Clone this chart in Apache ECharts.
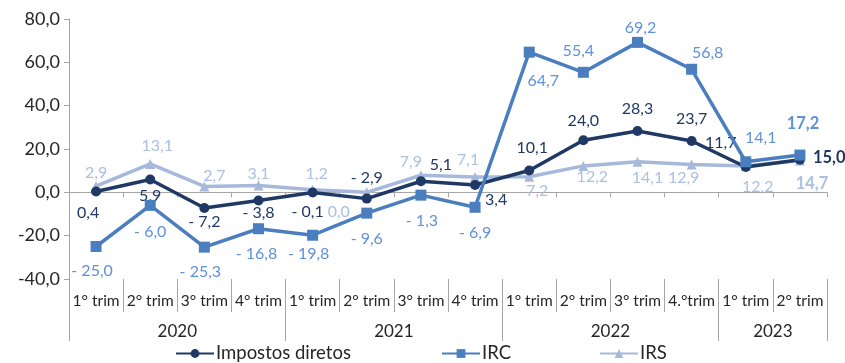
<!DOCTYPE html>
<html>
<head>
<meta charset="utf-8">
<script src="https://cdn.jsdelivr.net/npm/echarts@6/dist/echarts.min.js"></script>
<style>
  html, body { margin: 0; padding: 0; background: #fff; }
  #chart { width: 845px; height: 363px; }
</style>
</head>
<body>
<div id="chart"></div>
<script>
// Quarterly year-on-year change (%) of direct taxes, IRC and IRS
const quarters = ['1° trim', '2° trim', '3° trim', '4° trim',
                  '1° trim', '2° trim', '3° trim', '4° trim',
                  '1° trim', '2° trim', '3° trim', '4.°trim',
                  '1° trim', '2° trim'];
const years = ['2020', '2021', '2022', '2023'];
const quartersPerYear = [4, 4, 4, 2];

const impostosDiretos = [0.4, 5.9, -7.2, -3.8, -0.1, -2.9, 5.1, 3.4, 10.1, 24.0, 28.3, 23.7, 11.7, 15.0];
const irc = [-25.0, -6.0, -25.3, -16.8, -19.8, -9.6, -1.3, -6.9, 64.7, 55.4, 69.2, 56.8, 14.1, 17.2];
const irs = [2.9, 13.1, 2.7, 3.1, 1.2, 0.0, 7.9, 7.1, 7.2, 12.2, 14.1, 12.9, 12.2, 14.7];

const yTicks = { min: -40, max: 80, step: 20 };

// label placement per point: [position, dx, dy]
const impLabelPlace = [['bottom',-8,3],['bottom',0,-2],['bottom',0,-4],['bottom',0,-6],['bottom',-5,1],['top',0,-3],['top',20,2],['right',0,15],['top',3,-5],['top',0,-1],['top',0,-4],['top',0,-4],['top',-25,-6],['right',3,-2]];
const ircLabelPlace = [['bottom',-4,6],['bottom',0,8],['bottom',-4,6],['bottom',-2,7],['bottom',-4,0],['bottom',0,7],['bottom',1,7],['bottom',0,7],['bottom',14,10],['top',-5,-3],['top',3,4],['top',16,2],['top',15,-5],['top',3,-12]];
const irsLabelPlace = [['top',0,5],['top',7,0],['top',10,7],['top',0,6],['top',4,2],['bottom',-28,2],['top',-10,5],['top',-7,1],['bottom',8,-4],['bottom',9,-7],['bottom',10,-2],['bottom',-8,-5],['bottom',12,3],['bottom',12,5]];

const FONT = 'Lato, "DejaVu Sans", sans-serif';
const AXIS_GREY = '#a6a6a6';
const TEXT = '#262626';

function fmt(v) {
  const s = Math.abs(v).toFixed(1).replace('.', ',');
  return v < 0 ? '- ' + s : s;
}

function buildPoints(values, places, color) {
  return values.map((v, i) => {
    const [pos, dx, dy] = places[i];
    const last = i === values.length - 1;
    return {
      value: v,
      label: {
        show: true,
        position: pos,
        offset: [dx, dy],
        color: color,
        fontSize: last ? 16.5 : 16,
        fontWeight: last ? 'bold' : 'normal',
        fontFamily: FONT,
        formatter: p => fmt(p.value)
      }
    };
  });
}

// year row: one slot per quarter boundary, year name at the middle of its span
const yearSlots = new Array(quarters.length + 1).fill('');
const yearBounds = [0];
let start = 0;
quartersPerYear.forEach((n, k) => {
  yearSlots[start + n / 2] = years[k];
  start += n;
  yearBounds.push(start);
});

const chart = echarts.init(document.getElementById('chart'), null, { renderer: 'canvas' });

const legendBase = {
  top: 339,
  itemWidth: 38,
  itemHeight: 11,
  textStyle: { fontSize: 18.5, color: TEXT, fontFamily: FONT, padding: [0, 0, 0, -3] }
};

chart.setOption({
  animation: false,
  backgroundColor: '#ffffff',
  grid: { left: 69, right: 18, top: 19, bottom: 84, containLabel: false },
  legend: [
    Object.assign({ left: 170, data: ['Impostos diretos'] }, legendBase),
    Object.assign({ left: 436, data: ['IRC'] }, legendBase),
    Object.assign({ left: 594, data: ['IRS'] }, legendBase)
  ],
  xAxis: [
    {
      type: 'category',
      data: quarters,
      axisLine: { onZero: true, lineStyle: { color: AXIS_GREY, width: 1 } },
      axisTick: { show: true, length: 5, lineStyle: { color: AXIS_GREY } },
      axisLabel: { show: false },
      splitLine: { show: false }
    },
    {
      type: 'category',
      data: quarters,
      position: 'bottom',
      axisLine: { show: false, onZero: false },
      axisTick: { show: true, length: 33, lineStyle: { color: AXIS_GREY } },
      axisLabel: { show: true, interval: 0, margin: 14, fontSize: 15.5, color: TEXT, fontFamily: FONT },
      splitLine: { show: false }
    },
    {
      type: 'category',
      data: yearSlots,
      boundaryGap: false,
      position: 'bottom',
      axisLine: { show: false, onZero: false },
      axisTick: { show: true, length: 62, interval: (i) => yearBounds.includes(i), lineStyle: { color: AXIS_GREY } },
      axisLabel: { show: true, interval: 0, margin: 44, fontSize: 17, color: TEXT, fontFamily: FONT },
      splitLine: { show: false }
    }
  ],
  yAxis: {
    type: 'value',
    min: yTicks.min,
    max: yTicks.max,
    interval: yTicks.step,
    axisLine: { show: true, lineStyle: { color: AXIS_GREY } },
    axisTick: { show: true, length: 5, lineStyle: { color: AXIS_GREY } },
    axisLabel: { fontSize: 18, color: TEXT, fontFamily: FONT, margin: 9,
                 formatter: v => v.toFixed(1).replace('.', ',') },
    splitLine: { show: false }
  },
  series: [
    {
      name: 'IRS',
      type: 'line',
      xAxisIndex: 0,
      data: buildPoints(irs, irsLabelPlace, '#a9bfe3'),
      symbol: 'triangle',
      symbolSize: 10,
      lineStyle: { width: 3.5, color: '#a7b9da' },
      itemStyle: { color: '#a7b9da' },
      z: 2
    },
    {
      name: 'Impostos diretos',
      type: 'line',
      xAxisIndex: 0,
      data: buildPoints(impostosDiretos, impLabelPlace, '#1f3864'),
      symbol: 'circle',
      symbolSize: 10,
      lineStyle: { width: 3.5, color: '#203864' },
      itemStyle: { color: '#203864' },
      z: 3
    },
    {
      name: 'IRC',
      type: 'line',
      xAxisIndex: 0,
      data: buildPoints(irc, ircLabelPlace, '#5f91da'),
      symbol: 'rect',
      symbolSize: 11,
      lineStyle: { width: 3.5, color: '#4a7ebf' },
      itemStyle: { color: '#4a7ebf' },
      z: 4
    }
  ]
});
</script>
</body>
</html>
